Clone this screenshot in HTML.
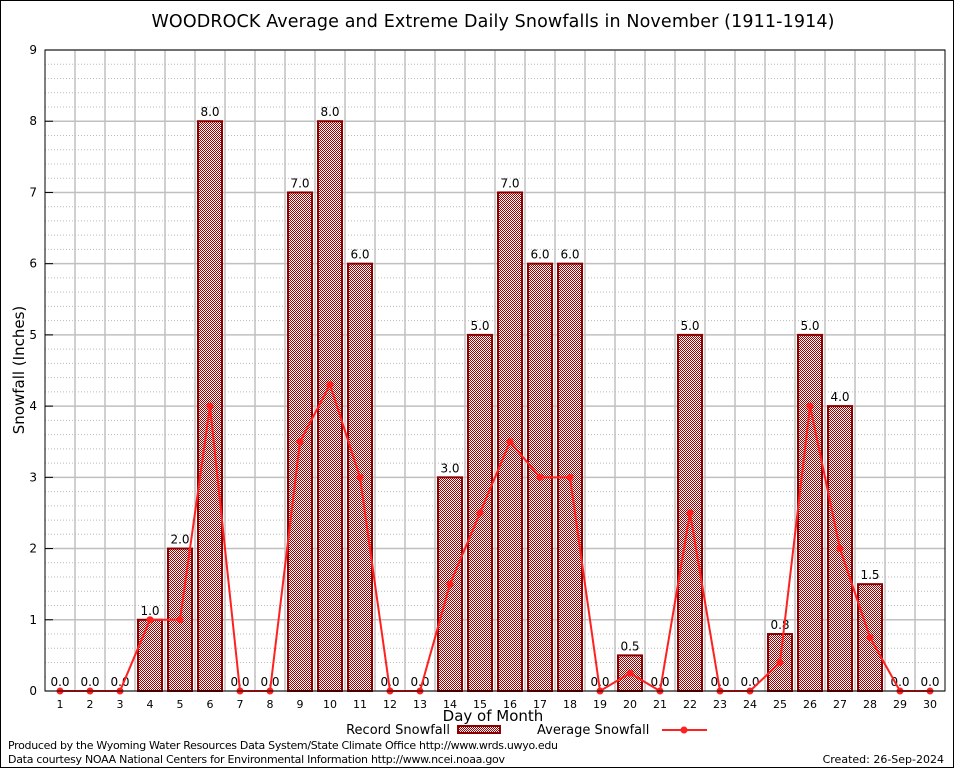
<!DOCTYPE html>
<html><head><meta charset="utf-8"><style>
body{margin:0;background:#fff;}
svg text{font-family:"DejaVu Sans","Liberation Sans",sans-serif;}
</style></head><body>
<svg id="chart" width="954" height="768" xmlns="http://www.w3.org/2000/svg">
<defs>
<pattern id="chk" width="2" height="2" patternUnits="userSpaceOnUse">
<rect width="2" height="2" fill="#fff"/><rect width="1" height="1" fill="#a00000"/><rect x="1" y="1" width="1" height="1" fill="#a00000"/>
</pattern>
</defs>
<rect x="0.5" y="0.5" width="953" height="767" fill="#fff" stroke="#000"/>
<text x="493" y="27" font-size="17.5" text-anchor="middle" textLength="683">WOODROCK Average and Extreme Daily Snowfalls in November (1911-1914)</text>
<g id="grid"></g>
<g id="bars"></g>
<g id="labels"></g>
<g id="line"></g>
<rect x="45" y="50" width="900" height="641" fill="none" stroke="#000"/>
<g id="axes"></g>
<text x="24" y="370" font-size="15" text-anchor="middle" transform="rotate(-90 24 370)">Snowfall (Inches)</text>
<text x="493" y="721" font-size="15" text-anchor="middle">Day of Month</text>
<g>
<text x="450" y="734" font-size="13" text-anchor="end">Record Snowfall</text>
<rect x="458" y="726" width="42" height="7" fill="url(#chk)" stroke="#8b0000" stroke-width="2"/>
</g>
<g>
<text x="537" y="734" font-size="13">Average Snowfall</text>
<line x1="662" y1="730" x2="707" y2="730" stroke="#ff2020" stroke-width="2"/>
<circle cx="684" cy="730" r="3.5" fill="#ff2020"/>
</g>
<text x="8" y="749" font-size="11" textLength="550">Produced by the Wyoming Water Resources Data System/State Climate Office http://www.wrds.uwyo.edu</text>
<text x="8" y="763" font-size="11" textLength="497">Data courtesy NOAA National Centers for Environmental Information http://www.ncei.noaa.gov</text>
<text x="944" y="763" font-size="11" text-anchor="end">Created: 26-Sep-2024</text>
</svg>
<script>
const days=[1,2,3,4,5,6,7,8,9,10,11,12,13,14,15,16,17,18,19,20,21,22,23,24,25,26,27,28,29,30];
const recordValues=[0,0,0,1,2,8,0,0,7,8,6,0,0,3,5,7,6,6,0,0.5,0,5,0,0,0.8,5,4,1.5,0,0];
const averageValues=[0,0,0,1,1,4,0,0,3.5,4.3,3,0,0,1.5,2.5,3.5,3,3,0,0.25,0,2.5,0,0,0.4,4,2,0.75,0,0];
const yTicks=[0,1,2,3,4,5,6,7,8,9];
const NS="http://www.w3.org/2000/svg";
const X=d=>45+(d-0.5)*30;
const Y=v=>691-v*(641/9);
function mk(tag,attrs,parent,txt){const e=document.createElementNS(NS,tag);for(const k in attrs)e.setAttribute(k,attrs[k]);if(txt!==undefined)e.textContent=txt;document.getElementById(parent).appendChild(e);return e;}
for(let v=0;v<=9;v+=0.2){const vv=Math.round(v*10)/10;if(Math.abs(vv-Math.round(vv))<0.01)continue;
const g=mk('line',{x1:45,x2:945,y1:Y(vv),y2:Y(vv),stroke:'#bbb','stroke-dasharray':'1,2'},'grid');

}
yTicks.forEach(t=>{const g=mk('line',{x1:45,x2:945,y1:Y(t),y2:Y(t),stroke:'#c0c0c0','stroke-width':1.5},'grid');


const tx=mk('text',{x:37,y:Y(t)+4,'font-size':12,'text-anchor':'end','font-family':'Liberation Serif'},'axes',t);


const tk=mk('line',{x1:45,x2:53,y1:Y(t),y2:Y(t),stroke:'#000'},'axes');

});
days.forEach((d,i)=>{if(i<days.length-1){const g=mk('line',{x1:X(d+0.5),x2:X(d+0.5),y1:50,y2:691,stroke:'#c0c0c0','stroke-width':1.5},'grid');

}
const tx=mk('text',{x:X(d),y:708,'font-size':11,'text-anchor':'middle','font-family':'Liberation Serif'},'axes',d);


const v=recordValues[i];
if(v>0){const b=mk('rect',{x:X(d)-12,y:Y(v),width:24,height:Y(0)-Y(v),fill:'url(#chk)',stroke:'#8b0000','stroke-width':2},'bars');

}
const lbl=v.toFixed(1);
if(v===0){const r=mk('rect',{x:X(d)-13,y:Y(v)-17,width:26,height:14,fill:'#fff'},'labels');

}
const t=mk('text',{x:X(d),y:Y(v)-5,'font-size':12,'text-anchor':'middle'},'labels',lbl);

});
const pts=days.map((d,i)=>X(d)+','+Y(averageValues[i])).join(' ');
const pl=mk('polyline',{points:pts,fill:'none',stroke:'#ff2020','stroke-width':2},'line');


days.forEach((d,i)=>{const c=mk('circle',{cx:X(d),cy:Y(averageValues[i]),r:3.5,fill:'#ff2020'},'line');

});
</script>
</body></html>
